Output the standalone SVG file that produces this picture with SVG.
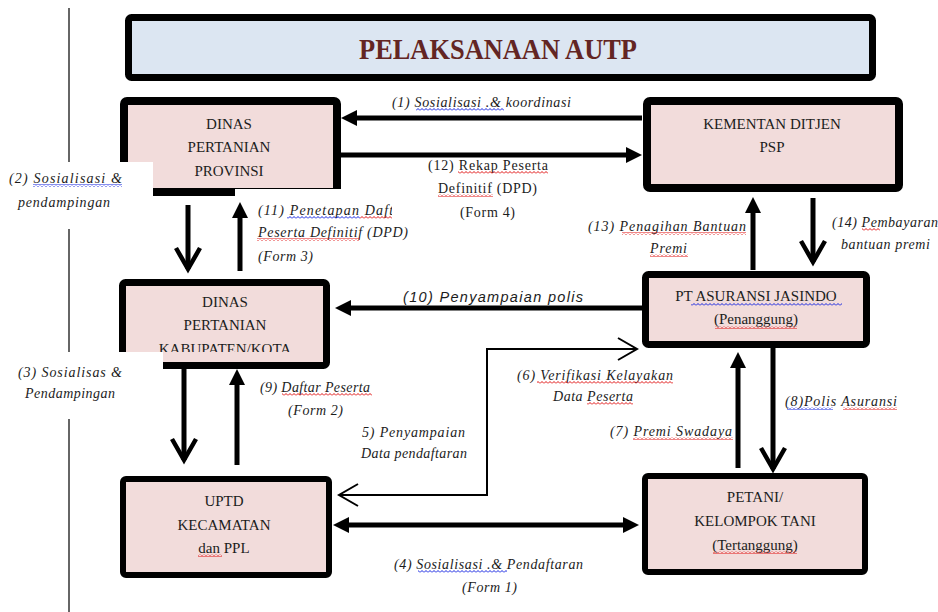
<svg xmlns="http://www.w3.org/2000/svg" width="938" height="612" viewBox="0 0 938 612" font-family="'Liberation Serif', 'Times New Roman', serif">
<style>
.box{fill:#f2dcdb;stroke:#000;stroke-linejoin:round}
.nt{font-size:15px;fill:#1c1c1c;text-anchor:middle}
.lb{font-size:14px;font-style:italic;fill:#1c1c1c}
.lr{font-size:14px;fill:#1c1c1c}
.ls{font-size:14.5px;font-style:italic;fill:#1c1c1c}
.c{fill:none;stroke:#000;stroke-width:5}
.ct{fill:none;stroke:#000;stroke-width:2}
.sr{fill:url(#sqr)}
.sb{fill:url(#sqb)}
.wb{fill:#fff}
</style>
<defs>
<pattern id="sqr" width="4" height="3" patternUnits="userSpaceOnUse"><path d="M0,2.5 L2,0.5 L4,2.5" fill="none" stroke="#e01010" stroke-width="1"/></pattern>
<pattern id="sqb" width="4" height="3" patternUnits="userSpaceOnUse"><path d="M0,2.5 L2,0.5 L4,2.5" fill="none" stroke="#1020e0" stroke-width="1"/></pattern>
<marker id="af" markerUnits="userSpaceOnUse" markerWidth="16" markerHeight="16" refX="4" refY="8" orient="auto-start-reverse" overflow="visible"><path d="M0,0 L16,8 L0,16 z" fill="#000"/></marker>
<marker id="ao" markerUnits="userSpaceOnUse" markerWidth="30" markerHeight="30" refX="24" refY="15" orient="auto-start-reverse" overflow="visible"><path d="M3,3 L24,15 L3,27" fill="none" stroke="#000" stroke-width="4.5"/></marker>
<marker id="at" markerUnits="userSpaceOnUse" markerWidth="24" markerHeight="26" refX="20" refY="13" orient="auto-start-reverse" overflow="visible"><path d="M1,2 L20,13 L1,24" fill="none" stroke="#000" stroke-width="2"/></marker>
<clipPath id="clip11"><rect x="250" y="195" width="142" height="25"/></clipPath>
<clipPath id="clipKab"><rect x="119" y="279" width="211" height="73"/></clipPath>
</defs>

<line x1="69" y1="8" x2="69" y2="612" stroke="#333" stroke-width="1.5"/>

<g id="title">
<rect x="128.5" y="17.5" width="744" height="60" rx="3" fill="#dce6f2" stroke="#000" stroke-width="7"/>
<text x="359" y="59" font-family="'Liberation Serif','Times New Roman',serif" font-size="30" font-weight="bold" fill="#632523" textLength="278" lengthAdjust="spacingAndGlyphs">PELAKSANAAN AUTP</text>
</g>

<g id="n-dinas-prov">
<rect class="box" x="124" y="101" width="213" height="91" rx="3" stroke-width="8"/>
<text class="nt" x="229" y="129">DINAS</text>
<text class="nt" x="229" y="152">PERTANIAN</text>
<text class="nt" x="229" y="176">PROVINSI</text>
</g>

<g id="n-kementan">
<rect class="box" x="647" y="101" width="252" height="87" rx="3" stroke-width="8"/>
<text class="nt" x="772" y="129">KEMENTAN DITJEN</text>
<text class="nt" x="772" y="152">PSP</text>
</g>

<g id="n-dinas-kab">
<rect class="box" x="122.5" y="282.5" width="204" height="83" rx="3" stroke-width="7"/>
<g clip-path="url(#clipKab)">
<text class="nt" x="225" y="307">DINAS</text>
<text class="nt" x="225" y="330">PERTANIAN</text>
<text class="nt" x="225" y="354">KABUPATEN/KOTA</text>
</g>
</g>

<g id="n-uptd">
<rect class="box" x="123" y="479" width="206" height="96" rx="3" stroke-width="6"/>
<text class="nt" x="224" y="506">UPTD</text>
<text class="nt" x="224" y="530">KECAMATAN</text>
<text class="nt" x="224" y="553">dan PPL</text>
<rect class="sr" x="198" y="554" width="24" height="3"/>
</g>

<g id="n-asuransi">
<rect class="box" x="645.5" y="274.5" width="221" height="70" rx="3" stroke-width="7"/>
<text class="nt" x="756" y="301">PT ASURANSI JASINDO</text>
<text class="nt" x="756" y="324">(Penanggung)</text>
<rect class="sb" x="691" y="303" width="151" height="3"/>
<rect class="sr" x="715" y="326" width="82" height="3"/>
</g>

<g id="n-petani">
<rect class="box" x="645" y="476" width="220" height="96" rx="3" stroke-width="6"/>
<text class="nt" x="755" y="502">PETANI/</text>
<text class="nt" x="755" y="526">KELOMPOK TANI</text>
<text class="nt" x="755" y="550">(Tertanggung)</text>
<rect class="sr" x="713" y="551" width="84" height="3"/>
</g>

<rect class="wb" x="0" y="162" width="153" height="67"/>
<rect class="wb" x="235" y="189" width="160" height="80"/>
<rect class="wb" x="0" y="352" width="163" height="67"/>

<g id="connectors">
<path class="c" d="M642,118 L353,118" marker-end="url(#af)"/>
<path class="c" d="M341,155 L630,155" marker-end="url(#af)"/>
<path class="c" d="M188,205 L188,269" marker-end="url(#ao)"/>
<path class="c" d="M240,271 L240,214" marker-end="url(#af)"/>
<path class="c" d="M642,308 L347,308" marker-end="url(#af)"/>
<path class="c" d="M184,369 L184,460" marker-end="url(#ao)"/>
<path class="c" d="M237,465 L237,381" marker-end="url(#af)"/>
<path class="c" d="M345,525 L627,525" marker-start="url(#af)" marker-end="url(#af)"/>
<path class="ct" d="M339,495 L487,495 L487,349 L637,349" marker-start="url(#at)" marker-end="url(#at)"/>
<path class="c" d="M753,270 L753,209" marker-end="url(#af)"/>
<path class="c" d="M813,198 L813,262" marker-end="url(#ao)"/>
<path class="c" d="M738,468 L738,364" marker-end="url(#af)"/>
<path class="c" d="M773,348 L773,469" marker-end="url(#ao)"/>
</g>

<g id="labels">
<text class="lb" x="392" y="107" textLength="179">(1)  Sosialisasi .&amp; koordinasi</text>
<rect class="sb" x="416" y="108" width="88" height="3"/>

<text class="lr" x="428" y="170" textLength="120">(12)  Rekap Peserta</text>
<text class="lr" x="438" y="193" textLength="99">Definitif (DPD)</text>
<text class="lr" x="460" y="217" textLength="55">(Form 4)</text>
<rect class="sr" x="458" y="171" width="90" height="3"/>
<rect class="sr" x="438" y="194" width="55" height="3"/>

<text class="lb" x="9" y="183" textLength="113">(2)  Sosialisasi &amp;</text>
<text class="lb" x="18" y="207" textLength="92">pendampingan</text>
<rect class="sb" x="33" y="184" width="89" height="3"/>

<text class="lb" x="258" y="215" clip-path="url(#clip11)" textLength="150">(11) Penetapan Daftar</text>
<rect class="sb" x="287" y="216" width="73" height="3"/>
<rect class="sr" x="360" y="216" width="32" height="3"/>
<text class="lb" x="258" y="237" textLength="150">Peserta Definitif (DPD)</text>
<rect class="sr" x="257" y="238" width="103" height="3"/>
<text class="lb" x="258" y="261" textLength="55">(Form 3)</text>

<text class="ls" x="403" y="302" textLength="180" font-family="'Liberation Sans', Arial, sans-serif">(10)  Penyampaian  polis</text>

<text class="lb" x="18" y="377" textLength="104">(3)  Sosialisas &amp;</text>
<text class="lb" x="25" y="398" textLength="90">Pendampingan</text>

<text class="lb" x="260" y="392" textLength="110">(9) Daftar Peserta</text>
<rect class="sr" x="282" y="393" width="90" height="3"/>
<text class="lb" x="288" y="415" textLength="55">(Form 2)</text>

<text class="lb" x="517" y="380" textLength="156">(6) Verifikasi Kelayakan</text>
<rect class="sr" x="537" y="381" width="136" height="3"/>
<text class="lb" x="553" y="401" textLength="80">Data Peserta</text>
<rect class="sr" x="587" y="402" width="46" height="3"/>

<text class="lb" x="362" y="437" textLength="103">5)  Penyampaian</text>
<text class="lb" x="361" y="458" textLength="106">Data pendaftaran</text>

<text class="lb" x="394" y="569" textLength="189">(4)  Sosialisasi .&amp; Pendaftaran</text>
<rect class="sb" x="418" y="570" width="89" height="3"/>
<text class="lb" x="462" y="592" textLength="55">(Form 1)</text>

<text class="lb" x="588" y="231" textLength="158">(13)  Penagihan Bantuan</text>
<rect class="sr" x="622" y="232" width="124" height="3"/>
<text class="lb" x="650" y="253" textLength="37">Premi</text>
<rect class="sr" x="650" y="254" width="38" height="3"/>

<text class="lb" x="832" y="227" textLength="106">(14) Pembayaran</text>
<rect class="sr" x="862" y="228" width="18" height="3"/>
<text class="lb" x="841" y="249" textLength="89">bantuan premi</text>

<text class="lb" x="610" y="436" textLength="122">(7)  Premi Swadaya</text>
<rect class="sr" x="633" y="437" width="100" height="3"/>

<text class="lb" x="785" y="406" textLength="112">(8)Polis  Asuransi</text>
<rect class="sb" x="787" y="407" width="46" height="3"/>
<rect class="sr" x="843" y="407" width="54" height="3"/>
</g>
</svg>
